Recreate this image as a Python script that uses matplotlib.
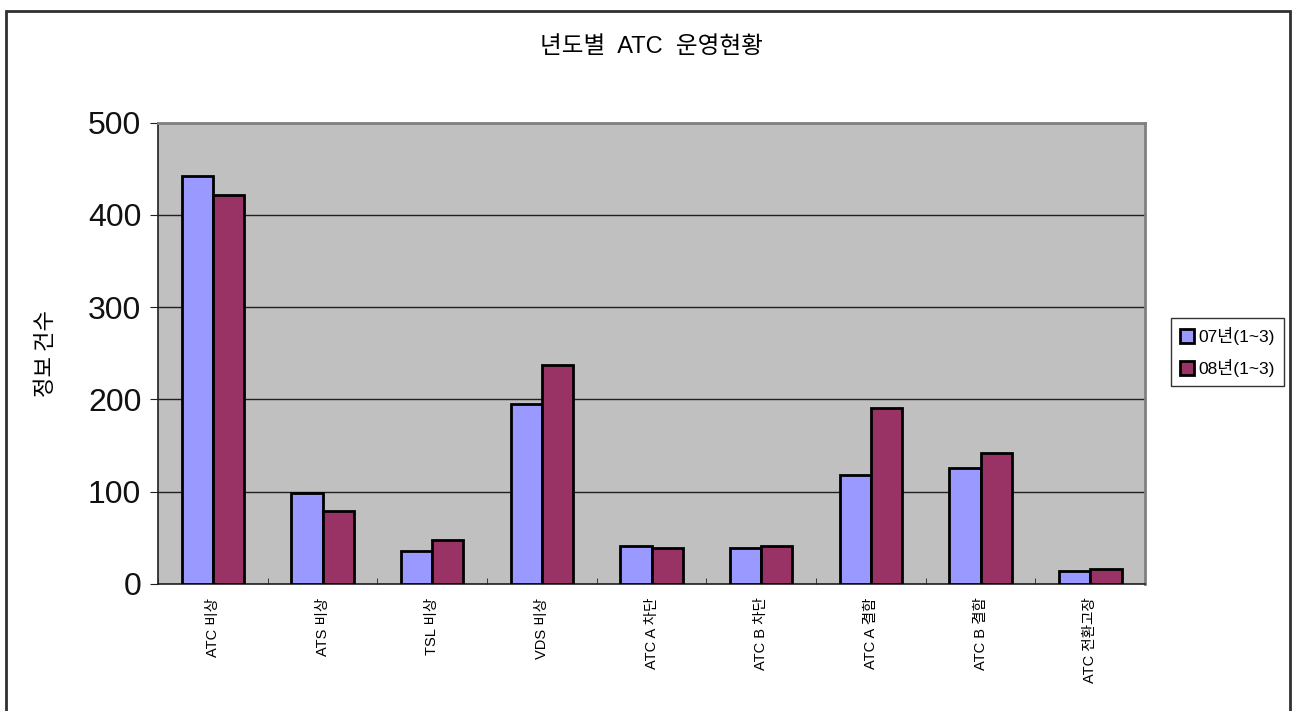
import numpy as np
import matplotlib.pyplot as plt
from matplotlib.patches import Rectangle

plt.rcParams['font.family'] = ['Liberation Sans', 'Noto Sans CJK KR', 'DejaVu Sans']

categories = ['ATC 비상', 'ATS 비상', 'TSL 비상', 'VDS 비상', 'ATC A 차단',
              'ATC B 차단', 'ATC A 결함', 'ATC B 결함', 'ATC 전환고장']
y07 = [442, 98, 35, 195, 41, 39, 118, 126, 14]
y08 = [422, 79, 47, 237, 39, 41, 191, 142, 16]
series_names = ['07년(1~3)', '08년(1~3)']
yticks = [0, 100, 200, 300, 400, 500]

fig = plt.figure(figsize=(12.93, 7.11), dpi=100)
ax = fig.add_axes([0.1222, 0.179, 0.7634, 0.6486])

x = np.arange(len(categories))
w = 0.285
ax.bar(x - w / 2, y07, w, color='#9999FF', edgecolor='black', linewidth=2,
       label=series_names[0], zorder=3)
ax.bar(x + w / 2, y08, w, color='#993366', edgecolor='black', linewidth=2,
       label=series_names[1], zorder=3)

ax.set_facecolor('#C0C0C0')
ax.set_xlim(-0.5, len(categories) - 0.5)
ax.set_ylim(0, 500)
ax.set_yticks(yticks)
ax.set_yticklabels([str(t) for t in yticks], fontsize=23, color='#111111')
ax.yaxis.grid(True, color='#202020', linewidth=1, zorder=1)
ax.set_axisbelow(True)

ax.set_xticks(x)
ax.set_xticklabels(categories, rotation=90, fontsize=10.5)
ax.tick_params(axis='x', length=0, pad=10)
ax.set_xticks(np.arange(len(categories) + 1) - 0.5, minor=True)
ax.tick_params(axis='x', which='minor', direction='in', length=4, color='#202020')
ax.tick_params(axis='y', direction='out', length=6, color='#202020', pad=6)

for s in ['top', 'right']:
    ax.spines[s].set_color('#808080')
    ax.spines[s].set_linewidth(2)
for s in ['left', 'bottom']:
    ax.spines[s].set_color('#202020')
    ax.spines[s].set_linewidth(1.2)

ax.set_ylabel('정보 건수', fontsize=16, labelpad=22,
              family=['Noto Sans CJK KR', 'DejaVu Sans'])

fig.text(0.504, 0.934, '년도별  ATC  운영현황', ha='center', va='center', fontsize=17)

leg = ax.legend(loc='center left', frameon=True, fancybox=False, edgecolor='black',
                handlelength=0.8, handleheight=0.8, handletextpad=0.3,
                borderpad=0.5, labelspacing=0.8, borderaxespad=0,
                prop={'size': 12.5})
leg.get_frame().set_linewidth(1)
leg.set_bbox_to_anchor((1171 / 1293, 1 - 352 / 711), transform=fig.transFigure)

fig.patches.append(Rectangle((0.005, -0.01), 0.993, 0.995, transform=fig.transFigure,
                             fill=False, edgecolor='#303030', linewidth=2))

fig.savefig('out.png', dpi=100)
